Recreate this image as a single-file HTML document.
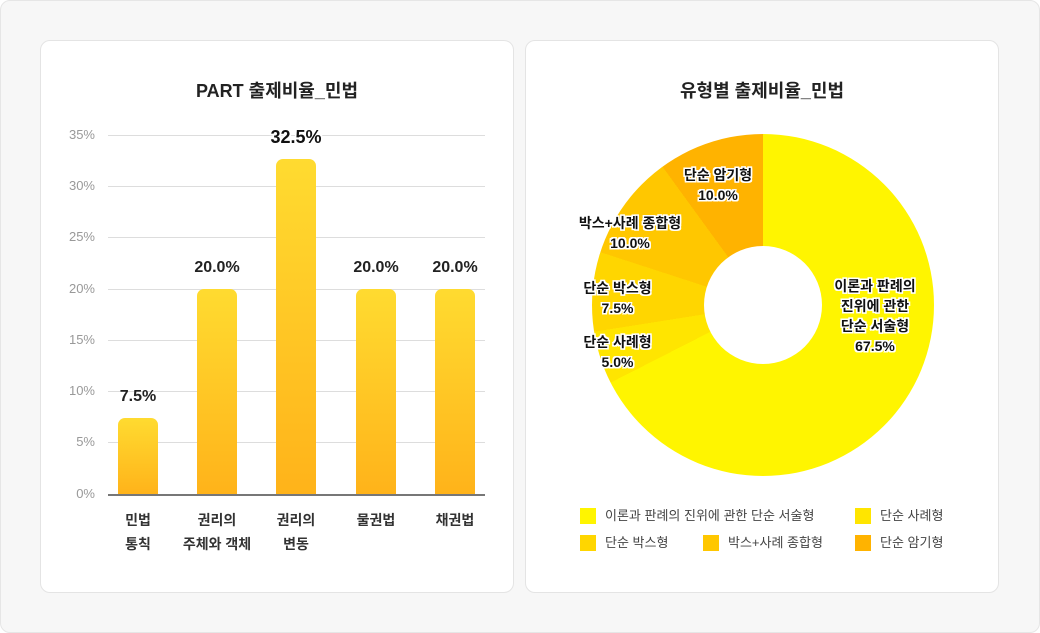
<!DOCTYPE html>
<html><head><meta charset="utf-8"><style>
*{margin:0;padding:0;box-sizing:border-box}
body{width:1040px;height:633px;background:#fff;font-family:"Liberation Sans","Noto Sans CJK KR",sans-serif;position:relative;overflow:hidden}
.outer{position:absolute;left:0;top:0;width:1040px;height:633px;background:#f7f7f7;border:1px solid #e6e6e6;border-radius:10px}
.card{position:absolute;top:40px;width:474px;height:553px;background:#fff;border:1px solid #e4e4e4;border-radius:10px}
.abs{position:absolute}
.title{position:absolute;font-size:18px;font-weight:bold;color:#222;width:100%;text-align:center;top:38px}
.tick{position:absolute;font-size:13px;color:#999;text-align:right;width:40px;left:55px}
.grid{position:absolute;left:108px;width:377px;height:1px;background:#ddd}
.bar{position:absolute;width:40px;border-radius:7px 7px 0 0;background:linear-gradient(#ffdb30,#ffb31a)}
.val{position:absolute;font-size:16px;font-weight:bold;color:#222;width:80px;text-align:center}
.xl{position:absolute;font-size:14px;font-weight:bold;color:#333;width:110px;text-align:center;line-height:24px;top:508px}
.pl{position:absolute;font-size:14px;font-weight:bold;color:#111;text-align:center;line-height:20px;
text-shadow:-1.5px -1.5px 0 #fff,1.5px -1.5px 0 #fff,-1.5px 1.5px 0 #fff,1.5px 1.5px 0 #fff,0 1.5px 0 #fff,0 -1.5px 0 #fff,1.5px 0 0 #fff,-1.5px 0 0 #fff}
.lg{position:absolute;font-size:13px;color:#444;line-height:16px}
.lg i{position:absolute;left:-25px;top:0;width:16px;height:16px}
</style></head><body>
<div class="outer"></div>
<div class="card" style="left:40px"></div>
<div class="card" style="left:525px"></div>
<div class="title" style="left:40px;width:474px;top:77px">PART 출제비율_민법</div>
<div class="title" style="left:525px;width:474px;top:77px">유형별 출제비율_민법</div>

<div class="grid" style="top:135px"></div><div class="tick" style="top:127px">35%</div>
<div class="grid" style="top:186px"></div><div class="tick" style="top:178px">30%</div>
<div class="grid" style="top:237px"></div><div class="tick" style="top:229px">25%</div>
<div class="grid" style="top:289px"></div><div class="tick" style="top:281px">20%</div>
<div class="grid" style="top:340px"></div><div class="tick" style="top:332px">15%</div>
<div class="grid" style="top:391px"></div><div class="tick" style="top:383px">10%</div>
<div class="grid" style="top:442px"></div><div class="tick" style="top:434px">5%</div>
<div class="tick" style="top:486px">0%</div>

<div class="bar" style="left:118px;top:418px;height:76px"></div>
<div class="bar" style="left:197px;top:289px;height:205px"></div>
<div class="bar" style="left:276px;top:159px;height:335px"></div>
<div class="bar" style="left:356px;top:289px;height:205px"></div>
<div class="bar" style="left:435px;top:289px;height:205px"></div>
<div class="grid" style="top:494px;height:2px;background:#777"></div>

<div class="val" style="left:98px;top:388px">7.5%</div>
<div class="val" style="left:177px;top:259px">20.0%</div>
<div class="pl" style="left:256px;top:127px;width:80px;font-size:18px">32.5%</div>
<div class="val" style="left:336px;top:259px">20.0%</div>
<div class="val" style="left:415px;top:259px">20.0%</div>

<div class="xl" style="left:83px">민법<br>통칙</div>
<div class="xl" style="left:162px">권리의<br>주체와 객체</div>
<div class="xl" style="left:241px">권리의<br>변동</div>
<div class="xl" style="left:321px">물권법</div>
<div class="xl" style="left:400px">채권법</div>

<div class="abs" style="left:592px;top:134px;width:342px;height:342px;border-radius:50%;background:conic-gradient(#fff500 0deg 243deg,#ffe500 243deg 261deg,#ffd600 261deg 288deg,#ffc700 288deg 324deg,#ffb300 324deg 360deg)"></div>
<div class="abs" style="left:704px;top:246px;width:118px;height:118px;border-radius:50%;background:#fff"></div>

<div class="pl" style="left:658px;top:165px;width:120px">단순 암기형<br>10.0%</div>
<div class="pl" style="left:560px;top:213px;width:140px">박스+사례 종합형<br>10.0%</div>
<div class="pl" style="left:565px;top:278px;width:105px">단순 박스형<br>7.5%</div>
<div class="pl" style="left:565px;top:332px;width:105px">단순 사례형<br>5.0%</div>
<div class="pl" style="left:815px;top:276px;width:120px">이론과 판례의<br>진위에 관한<br>단순 서술형<br>67.5%</div>

<div class="lg" style="left:605px;top:508px"><i style="background:#fff500"></i>이론과 판례의 진위에 관한 단순 서술형</div>
<div class="lg" style="left:880px;top:508px"><i style="background:#ffe500"></i>단순 사례형</div>
<div class="lg" style="left:605px;top:535px"><i style="background:#ffd600"></i>단순 박스형</div>
<div class="lg" style="left:728px;top:535px"><i style="background:#ffc700"></i>박스+사례 종합형</div>
<div class="lg" style="left:880px;top:535px"><i style="background:#ffb300"></i>단순 암기형</div>
</body></html>
